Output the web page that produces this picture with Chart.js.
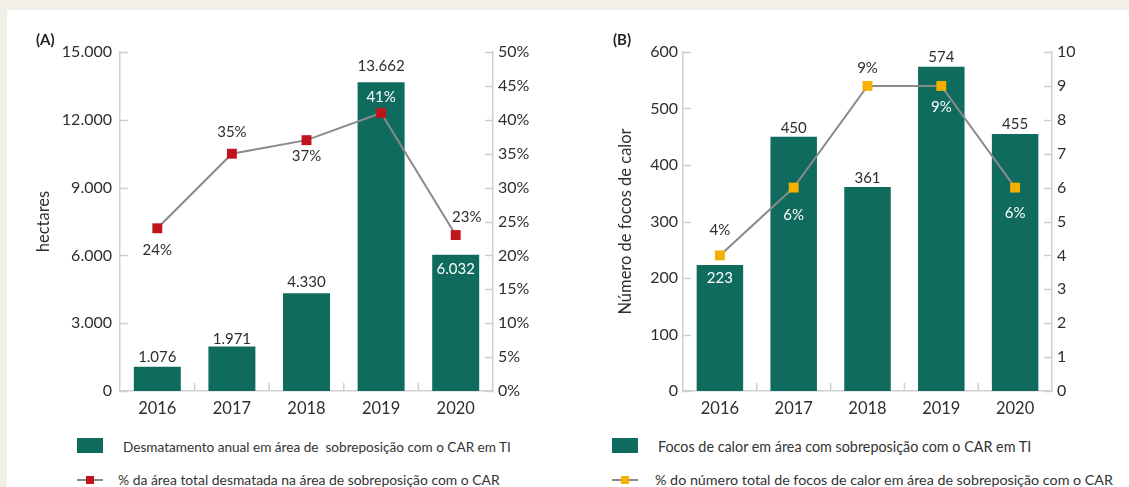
<!DOCTYPE html>
<html>
<head>
<meta charset="utf-8">
<script src="https://cdn.jsdelivr.net/npm/chart.js@4.4.1/dist/chart.umd.min.js"></script>
<style>
  html, body { margin: 0; padding: 0; }
  body { width: 1129px; height: 487px; background: #f2eee8; position: relative; overflow: hidden; font-family: Lato, "Open Sans", sans-serif; }
  #card { position: absolute; left: 7px; top: 10px; width: 1122px; height: 477px; background: #ffffff; }
  .wrap { position: absolute; top: 0; }
  .plabel { position: absolute; top: 30px; font-size: 15px; font-weight: bold; color: #222; }
  .leg { position: absolute; color: #333; white-space: pre; line-height: 16px; }
  .sw { position: absolute; }
</style>
</head>
<body>
<div id="card"></div>
<div class="wrap" style="left:0px;width:560px;height:430px;"><canvas id="cA" width="560" height="430"></canvas></div>
<div class="wrap" style="left:560px;width:569px;height:430px;"><canvas id="cB" width="569" height="430"></canvas></div>
<div class="plabel" style="left:36px;">(A)</div>
<div class="plabel" style="left:613px;">(B)</div>

<div class="sw" style="left:77px;top:438px;width:26px;height:15px;background:#0f6b5d;"></div>
<div class="leg" style="left:123px;top:439px;font-size:13.6px;">Desmatamento anual em área de  sobreposição com o CAR em TI</div>
<div class="sw" style="left:77px;top:479px;width:26px;height:2px;background:#8a8a8a;"></div>
<div class="sw" style="left:86px;top:476px;width:8px;height:8px;background:#c0141c;"></div>
<div class="leg" style="left:118px;top:472px;font-size:13.9px;">% da área total desmatada na área de sobreposição com o CAR</div>

<div class="sw" style="left:612px;top:438px;width:26px;height:15px;background:#0f6b5d;"></div>
<div class="leg" style="left:658px;top:439px;font-size:14.35px;">Focos de calor em área com sobreposição com o CAR em TI</div>
<div class="sw" style="left:612px;top:479px;width:26px;height:2px;background:#8a8a8a;"></div>
<div class="sw" style="left:621px;top:476px;width:8px;height:8px;background:#f5b000;"></div>
<div class="leg" style="left:655px;top:472px;font-size:14.3px;">% do número total de focos de calor em área de sobreposição com o CAR</div>

<script>
// ---- Data ----
const years = ['2016', '2017', '2018', '2019', '2020'];
const deforestHa = [1076, 1971, 4330, 13662, 6032];
const deforestPct = [24, 35, 37, 41, 23];
const fireCount = [223, 450, 361, 574, 455];
const firePct = [4, 6, 9, 9, 6];
const ticksHa = ['0', '3.000', '6.000', '9.000', '12.000', '15.000'];
const ticksFire = ['0', '100', '200', '300', '400', '500', '600'];

// ---- Styles ----
const BAR = '#0f6b5d';
const LINE = '#8a8a8a';
const AXIS = '#cfcfcf';
const TXT = '#2e2e2e';
const FONT = 'Lato';

function fmtThousands(v) {
  return String(v).replace(/\B(?=(\d{3})+(?!\d))/g, '.');
}

// label placement (style only): [dx, dy, color]
const labelStyleA = {
  bar: [[0,-10,TXT],[0,-7,TXT],[0,-11,TXT],[0,-16,TXT],[0,14,'#ffffff']],
  line: [[0,22,TXT],[0,-22,TXT],[0,16,TXT],[0,-16,'#ffffff'],[11,-18,TXT]]
};
const labelStyleB = {
  bar: [[0,13,'#ffffff'],[0,-9,TXT],[0,-9,TXT],[0,-10,TXT],[0,-10,TXT]],
  line: [[0,-25,TXT],[0,28,'#ffffff'],[0,-18,TXT],[0,21,'#ffffff'],[0,26,'#ffffff']]
};

function makeLabelPlugin(style, barFmt) {
  return {
    id: 'labels',
    afterDatasetsDraw(chart) {
      const ctx = chart.ctx;
      ctx.save();
      ctx.font = '15px ' + FONT;
      ctx.textAlign = 'center';
      ctx.textBaseline = 'middle';
      const barMeta = chart.getDatasetMeta(0);
      const lineMeta = chart.getDatasetMeta(1);
      barMeta.data.forEach((el, i) => {
        const s = style.bar[i];
        ctx.fillStyle = s[2];
        ctx.fillText(barFmt(chart.data.datasets[0].data[i]), el.x + s[0], el.y + s[1]);
      });
      lineMeta.data.forEach((el, i) => {
        const s = style.line[i];
        ctx.fillStyle = s[2];
        ctx.fillText(chart.data.datasets[1].data[i] + '%', el.x + s[0], el.y + s[1]);
      });
      ctx.restore();
    }
  };
}

const innerTicks = {
  id: 'innerTicks',
  afterDraw(chart) {
    const ctx = chart.ctx;
    const a = chart.chartArea;
    ctx.save();
    ctx.strokeStyle = AXIS;
    ctx.lineWidth = 1.5;
    ctx.beginPath();
    const yl = chart.scales.y, yr = chart.scales.y1, x = chart.scales.x;
    yl.ticks.forEach((t) => {
      const py = Math.round(yl.getPixelForValue(t.value)) + 0.5;
      ctx.moveTo(a.left, py); ctx.lineTo(a.left + 8, py);
    });
    yr.ticks.forEach((t) => {
      const py = Math.round(yr.getPixelForValue(t.value)) + 0.5;
      ctx.moveTo(a.right, py); ctx.lineTo(a.right - 8, py);
    });
    for (let i = 1; i < chart.data.labels.length; i++) {
      const px = (x.getPixelForValue(i - 1) + x.getPixelForValue(i)) / 2;
      ctx.moveTo(px, a.bottom); ctx.lineTo(px, a.bottom - 8);
    }
    ctx.stroke();
    ctx.restore();
  }
};

function buildChart(id, cfg) {
  return new Chart(document.getElementById(id), {
    data: {
      labels: years,
      datasets: [
        { type: 'bar', data: cfg.bars, backgroundColor: BAR, yAxisID: 'y', order: 2,
          categoryPercentage: 1, barPercentage: 0.63 },
        { type: 'line', data: cfg.line, yAxisID: 'y1', order: 1, borderColor: LINE, borderWidth: 2,
          pointStyle: 'rect', pointRadius: 7, pointBackgroundColor: cfg.markColor,
          pointBorderColor: cfg.markColor, pointBorderWidth: 0, tension: 0 }
      ]
    },
    options: {
      responsive: false,
      animation: false,
      events: [],
      layout: { padding: { top: 52, left: 0, right: 0, bottom: 0 } },
      plugins: { legend: { display: false }, tooltip: { enabled: false } },
      scales: {
        x: {
          offset: true,
          grid: { display: false, drawTicks: false },
          border: { display: true, color: AXIS, width: 1.5 },
          ticks: { color: TXT, font: { family: FONT, size: 16.5 }, padding: 8 },
          afterFit(s) { s.height = 39; }
        },
        y: {
          position: 'left',
          min: 0, max: cfg.yMax,
          grid: { display: false, drawTicks: false },
          border: { display: true, color: AXIS, width: 1.5 },
          ticks: { stepSize: cfg.yStep, color: TXT, font: { family: FONT, size: 16 }, padding: cfg.leftPad,
            callback: (v, i) => cfg.yLabels[i] },
          title: { display: true, text: cfg.yTitle, color: TXT, font: { family: FONT, size: 16.5 },
            padding: { top: cfg.titlePad, bottom: 0 } },
          afterFit(s) { s.width = cfg.leftW; }
        },
        y1: {
          position: 'right',
          min: 0, max: cfg.y1Max,
          grid: { display: false, drawTicks: false },
          border: { display: true, color: AXIS, width: 1.5 },
          ticks: { stepSize: cfg.y1Step, color: TXT, font: { family: FONT, size: 16 }, padding: 5,
            callback: cfg.y1Fmt },
          afterFit(s) { s.width = cfg.rightW; }
        }
      }
    },
    plugins: [innerTicks, makeLabelPlugin(cfg.labelStyle, cfg.barFmt)]
  });
}

buildChart('cA', {
  bars: deforestHa, line: deforestPct, markColor: '#c0141c',
  yMax: 15000, yStep: 3000, yLabels: ticksHa, yTitle: 'hectares', titlePad: 34, leftW: 120, leftPad: 8,
  y1Max: 50, y1Step: 5, y1Fmt: (v) => v + '%', rightW: 67,
  labelStyle: labelStyleA, barFmt: fmtThousands
});

buildChart('cB', {
  bars: fireCount, line: firePct, markColor: '#f5b000',
  yMax: 600, yStep: 100, yLabels: ticksFire, yTitle: 'Número de focos de calor', titlePad: 56, leftW: 123, leftPad: 5,
  y1Max: 10, y1Step: 1, y1Fmt: (v) => String(v), rightW: 77,
  labelStyle: labelStyleB, barFmt: (v) => String(v)
});
</script>
</body>
</html>
